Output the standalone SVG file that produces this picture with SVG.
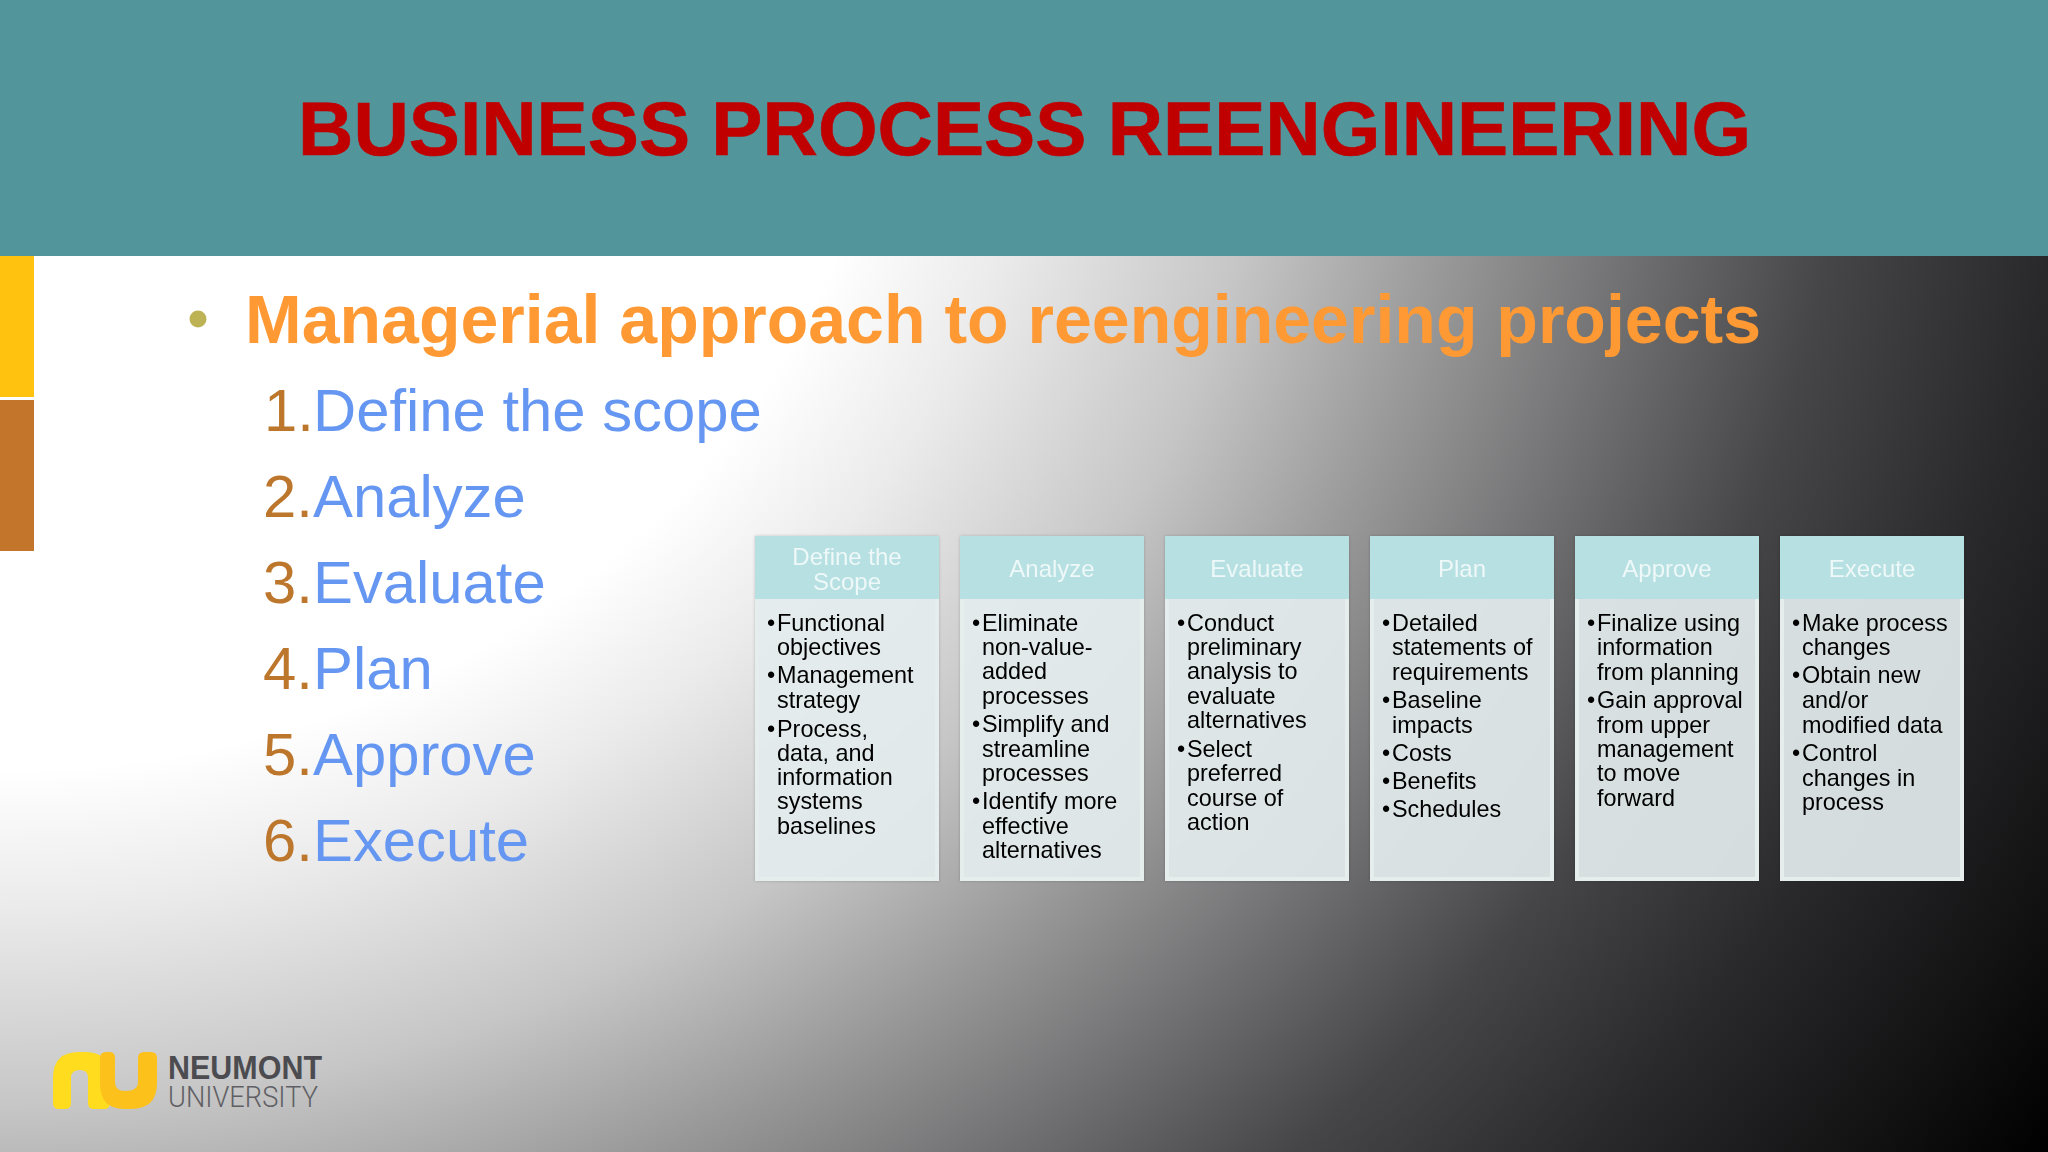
<svg xmlns="http://www.w3.org/2000/svg" width="2048" height="1152" viewBox="0 0 2048 1152">
<defs>
<radialGradient id="bg" gradientUnits="userSpaceOnUse" cx="0" cy="0" r="2121" gradientTransform="scale(1.15 1)">
<stop offset="0.363" stop-color="#fff"/><stop offset="0.427" stop-color="#ebebec"/><stop offset="0.522" stop-color="#c6c6c7"/><stop offset="0.605" stop-color="#989899"/><stop offset="0.758" stop-color="#464648"/><stop offset="0.847" stop-color="#29292b"/><stop offset="0.936" stop-color="#121213"/><stop offset="1" stop-color="#000"/>
</radialGradient>
<filter id="sh" x="-5%" y="-5%" width="110%" height="110%"><feDropShadow dx="0" dy="0" stdDeviation="1.5" flood-color="#000" flood-opacity="0.2"/></filter>
</defs>
<style>
text{font-family:"Liberation Sans",Arial,sans-serif}
.card{fill:#e6eeef;fill-opacity:.9;stroke:#e6eded;stroke-width:4}
.head{fill:#b7e0e2}
.ht{font-size:24px;fill:#eef8f8;text-anchor:middle}
.bt{font-size:23.4px;fill:#000}
.num{font-size:59.8px;fill:#bd772d}
.lab{font-size:59.8px;fill:#6597f2}
</style>
<rect id="background" width="2048" height="1152" fill="url(#bg)"/>
<rect id="banner" width="2048" height="256" fill="#52959a"/>
<rect x="0" y="256" width="34" height="141" fill="#ffc20e"/>
<rect x="0" y="400" width="34" height="151" fill="#c3752b"/>
<text x="298" y="155" font-size="76.7" font-weight="700" fill="#c00000" stroke="#c00000" stroke-width="0.6">BUSINESS PROCESS REENGINEERING</text>
<circle cx="198" cy="319" r="8.5" fill="#bdb254"/>
<text x="245" y="343" font-size="68" font-weight="700" fill="#ff9933" textLength="1516">Managerial approach to reengineering projects</text>
<g><text class="num" x="264" y="431">1.</text><text class="lab" x="313" y="431">Define the scope</text></g>
<g><text class="num" x="263" y="517">2.</text><text class="lab" x="313" y="517">Analyze</text></g>
<g><text class="num" x="263" y="603">3.</text><text class="lab" x="313" y="603">Evaluate</text></g>
<g><text class="num" x="263" y="689">4.</text><text class="lab" x="313" y="689">Plan</text></g>
<g><text class="num" x="263" y="775">5.</text><text class="lab" x="313" y="775">Approve</text></g>
<g><text class="num" x="263" y="861">6.</text><text class="lab" x="313" y="861">Execute</text></g>

<g id="col1" filter="url(#sh)"><rect class="card" x="757" y="538" width="180" height="341"/><rect class="head" x="755" y="536" width="184" height="63"/>
<text class="ht" x="847" y="565">Define the</text><text class="ht" x="847" y="590">Scope</text>
<text class="bt" x="767" y="631">•</text><text class="bt" x="777" y="631">Functional</text><text class="bt" x="777" y="655">objectives</text>
<text class="bt" x="767" y="683">•</text><text class="bt" x="777" y="683">Management</text><text class="bt" x="777" y="708">strategy</text>
<text class="bt" x="767" y="737">•</text><text class="bt" x="777" y="737">Process,</text><text class="bt" x="777" y="761">data, and</text><text class="bt" x="777" y="785">information</text><text class="bt" x="777" y="809">systems</text><text class="bt" x="777" y="834">baselines</text></g>

<g id="col2" filter="url(#sh)"><rect class="card" x="962" y="538" width="180" height="341"/><rect class="head" x="960" y="536" width="184" height="63"/>
<text class="ht" x="1052" y="577">Analyze</text>
<text class="bt" x="972" y="631">•</text><text class="bt" x="982" y="631">Eliminate</text><text class="bt" x="982" y="655">non-value-</text><text class="bt" x="982" y="679">added</text><text class="bt" x="982" y="704">processes</text>
<text class="bt" x="972" y="732">•</text><text class="bt" x="982" y="732">Simplify and</text><text class="bt" x="982" y="757">streamline</text><text class="bt" x="982" y="781">processes</text>
<text class="bt" x="972" y="809">•</text><text class="bt" x="982" y="809">Identify more</text><text class="bt" x="982" y="834">effective</text><text class="bt" x="982" y="858">alternatives</text></g>

<g id="col3" filter="url(#sh)"><rect class="card" x="1167" y="538" width="180" height="341"/><rect class="head" x="1165" y="536" width="184" height="63"/>
<text class="ht" x="1257" y="577">Evaluate</text>
<text class="bt" x="1177" y="631">•</text><text class="bt" x="1187" y="631">Conduct</text><text class="bt" x="1187" y="655">preliminary</text><text class="bt" x="1187" y="679">analysis to</text><text class="bt" x="1187" y="704">evaluate</text><text class="bt" x="1187" y="728">alternatives</text>
<text class="bt" x="1177" y="757">•</text><text class="bt" x="1187" y="757">Select</text><text class="bt" x="1187" y="781">preferred</text><text class="bt" x="1187" y="806">course of</text><text class="bt" x="1187" y="830">action</text></g>

<g id="col4" filter="url(#sh)"><rect class="card" x="1372" y="538" width="180" height="341"/><rect class="head" x="1370" y="536" width="184" height="63"/>
<text class="ht" x="1462" y="577">Plan</text>
<text class="bt" x="1382" y="631">•</text><text class="bt" x="1392" y="631">Detailed</text><text class="bt" x="1392" y="655">statements of</text><text class="bt" x="1392" y="680">requirements</text>
<text class="bt" x="1382" y="708">•</text><text class="bt" x="1392" y="708">Baseline</text><text class="bt" x="1392" y="733">impacts</text>
<text class="bt" x="1382" y="761">•</text><text class="bt" x="1392" y="761">Costs</text>
<text class="bt" x="1382" y="789">•</text><text class="bt" x="1392" y="789">Benefits</text>
<text class="bt" x="1382" y="817">•</text><text class="bt" x="1392" y="817">Schedules</text></g>

<g id="col5" filter="url(#sh)"><rect class="card" x="1577" y="538" width="180" height="341"/><rect class="head" x="1575" y="536" width="184" height="63"/>
<text class="ht" x="1667" y="577">Approve</text>
<text class="bt" x="1587" y="631">•</text><text class="bt" x="1597" y="631">Finalize using</text><text class="bt" x="1597" y="655">information</text><text class="bt" x="1597" y="680">from planning</text>
<text class="bt" x="1587" y="708">•</text><text class="bt" x="1597" y="708">Gain approval</text><text class="bt" x="1597" y="733">from upper</text><text class="bt" x="1597" y="757">management</text><text class="bt" x="1597" y="781">to move</text><text class="bt" x="1597" y="806">forward</text></g>

<g id="col6" filter="url(#sh)"><rect class="card" x="1782" y="538" width="180" height="341"/><rect class="head" x="1780" y="536" width="184" height="63"/>
<text class="ht" x="1872" y="577">Execute</text>
<text class="bt" x="1792" y="631">•</text><text class="bt" x="1802" y="631">Make process</text><text class="bt" x="1802" y="655">changes</text>
<text class="bt" x="1792" y="683">•</text><text class="bt" x="1802" y="683">Obtain new</text><text class="bt" x="1802" y="708">and/or</text><text class="bt" x="1802" y="733">modified data</text>
<text class="bt" x="1792" y="761">•</text><text class="bt" x="1802" y="761">Control</text><text class="bt" x="1802" y="786">changes in</text><text class="bt" x="1802" y="810">process</text></g>

<g id="logo">
<path d="M53 1103V1078Q53 1052 79 1052H86Q110 1052 110 1078V1103Q110 1109 104 1109H94Q88 1109 88 1103V1078Q88 1070 80 1070Q71 1070 71 1078V1103Q71 1109 65 1109H59Q53 1109 53 1103Z" fill="#ffdc1e"/>
<path d="M100 1058Q100 1052 106 1052H110Q115 1052 115 1058V1082Q115 1091 125 1091Q138 1091 138 1082V1058Q138 1052 144 1052H151Q157 1052 157 1058V1083Q157 1109 131 1109H124Q100 1109 100 1083Z" fill="#fdc11c"/>
<text x="168" y="1079" font-size="33" font-weight="700" fill="#4c4c50" textLength="154" lengthAdjust="spacingAndGlyphs">NEUMONT</text>
<text x="168" y="1107" font-size="30" font-weight="300" fill="#606064" style="font-family:Roboto,'Liberation Sans',sans-serif" textLength="150" lengthAdjust="spacingAndGlyphs">UNIVERSITY</text>
</g>
</svg>
